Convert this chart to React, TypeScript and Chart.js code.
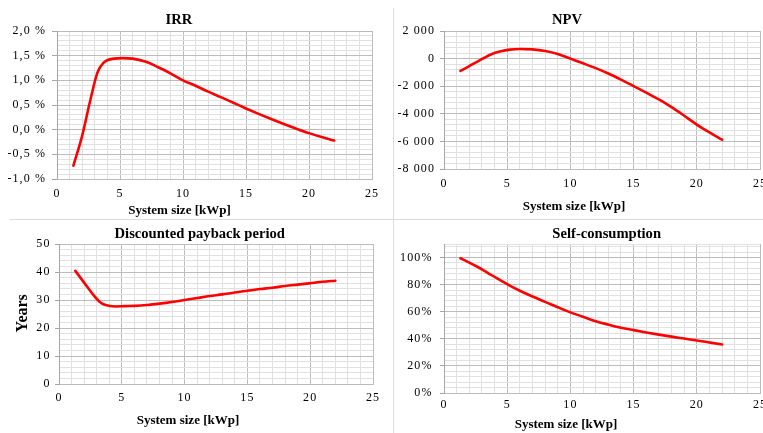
import React, { useEffect, useRef } from 'react';
import { Chart, registerables } from 'chart.js';

Chart.register(...registerables);

// ---------- data ----------
const systemSize = [1.3, 2, 2.6, 3.2, 3.7, 4.5, 5.2, 6, 7, 8, 9, 10, 11, 12, 13, 14, 15, 16, 17, 18, 19, 20, 21, 22];
const irrPct = [-0.73, -0.12, 0.55, 1.15, 1.36, 1.44, 1.45, 1.44, 1.38, 1.27, 1.14, 1.0, 0.89, 0.77, 0.66, 0.545, 0.43, 0.32, 0.215, 0.115, 0.02, -0.07, -0.15, -0.22];
const npvValues = [-890, -540, -230, 60, 300, 530, 650, 700, 670, 555, 340, 0, -340, -690, -1080, -1520, -1990, -2470, -2960, -3520, -4140, -4780, -5350, -5880];
const paybackYears = [40.4, 36.2, 32.6, 29.5, 28.2, 27.7, 27.8, 27.9, 28.2, 28.7, 29.3, 30.0, 30.7, 31.4, 32.0, 32.7, 33.3, 33.9, 34.4, 35.0, 35.5, 36.0, 36.5, 36.9];
const selfConsumptionPct = [99.5, 96.3, 93.4, 90.2, 87.3, 83, 79.3, 75.5, 71.2, 67.3, 63.3, 59.5, 56.3, 53, 50.5, 48.2, 46.4, 44.7, 43.1, 41.6, 40.2, 38.8, 37.3, 35.8];

// ---------- ticks ----------
const range = (min: number, max: number, step: number) => {
  const out: number[] = [];
  const n = Math.floor((max - min) / step + 1e-9);
  for (let i = 0; i <= n; i++) out.push(Math.round((min + i * step) * 1000) / 1000);
  if (out[out.length - 1] < max) out.push(max);
  return out;
};
const xTicks = range(0, 25, 1);
const xMajorStep = 5;
const irrTicks = range(-1, 2, 0.1);
const irrMajorStep = 0.5;
const npvTicks = range(-8000, 2000, 400);
const npvMajorStep = 2000;
const paybackTicks = range(0, 50, 2);
const paybackMajorStep = 10;
const selfTicks = range(0, 110, 4);
const selfMajorStep = 20;

const titles = {
  irr: 'IRR',
  npv: 'NPV',
  payback: 'Discounted payback period',
  self: 'Self-consumption',
  xAxis: 'System size [kWp]',
  years: 'Years',
};

// ---------- styling ----------
const W = 800;
const H = 433;
const X_H = 20;
const FONT = "'Liberation Serif', 'Times New Roman', serif";
const TICK_SIZE = 12;
const MAJOR = '#bcbcbc';
const MINOR = '#e1e1e1';

const isMajor = (v: number, step: number) => Math.abs(v / step - Math.round(v / step)) < 1e-6;

const fmtIrr = (v: number) => v.toFixed(1).replace('.', ',').replace('-0,0', '0,0') + ' %';
const fmtNpv = (v: number) => {
  const s = Math.abs(Math.round(v)).toString().replace(/\B(?=(\d{3})+(?!\d))/g, ' ');
  return (v < 0 ? '-' : '') + s;
};

type TextItem = { text: string; x: number; y: number; font: string; rotate?: boolean };

type PanelCfg = {
  values: number[];
  boxLeft: number;
  area: { left: number; top: number; right: number; bottom: number };
  yTicks: number[];
  yMajor: number;
  yLabel: (v: number) => string;
  yTickLen: number;
  yPad: number;
  xPad: number;
  texts: TextItem[];
};

const textPlugin = (items: TextItem[]) => ({
  id: 'panelText',
  beforeDraw(chart: any) {
    chart.ctx.letterSpacing = '1.1px';
  },
  afterDraw(chart: any) {
    const ctx = chart.ctx;
    ctx.save();
    ctx.letterSpacing = '0px';
    ctx.fillStyle = '#000';
    ctx.textAlign = 'center';
    ctx.textBaseline = 'alphabetic';
    for (const it of items) {
      ctx.save();
      ctx.font = it.font;
      ctx.translate(it.x, it.y);
      if (it.rotate) ctx.rotate(-Math.PI / 2);
      ctx.fillText(it.text, 0, 0);
      ctx.restore();
    }
    ctx.restore();
  },
});

const makeConfig = (p: PanelCfg): any => {
  const yW = p.area.left - p.boxLeft;
  return {
    type: 'line',
    data: {
      datasets: [
        {
          data: systemSize.map((x, i) => ({ x, y: p.values[i] })),
          borderColor: '#ff0000',
          borderWidth: 2.6,
          pointRadius: 0,
          cubicInterpolationMode: 'monotone',
          borderCapStyle: 'round',
          borderJoinStyle: 'round',
          fill: false,
          clip: false,
        },
      ],
    },
    options: {
      responsive: false,
      animation: false,
      events: [],
      layout: {
        padding: {
          left: p.boxLeft,
          top: p.area.top,
          right: W - p.area.right,
          bottom: H - p.area.bottom - X_H,
        },
      },
      plugins: { legend: { display: false }, tooltip: { enabled: false }, title: { display: false } },
      scales: {
        x: {
          type: 'linear',
          min: xTicks[0],
          max: xTicks[xTicks.length - 1],
          afterBuildTicks: (s: any) => {
            s.ticks = xTicks.map((v) => ({ value: v }));
          },
          afterFit: (s: any) => {
            s.height = X_H;
          },
          ticks: {
            autoSkip: false,
            maxRotation: 0,
            padding: p.xPad,
            color: '#000',
            font: { family: FONT, size: TICK_SIZE },
            callback: (v: number) => (isMajor(v, xMajorStep) ? String(v) : ''),
          },
          grid: {
            drawTicks: false,
            lineWidth: 1,
            color: (c: any) => (isMajor(c.tick.value, xMajorStep) ? MAJOR : MINOR),
          },
          border: { display: true, color: MAJOR, width: 1 },
        },
        y: {
          type: 'linear',
          min: p.yTicks[0],
          max: p.yTicks[p.yTicks.length - 1],
          afterBuildTicks: (s: any) => {
            s.ticks = p.yTicks.map((v) => ({ value: v }));
          },
          afterFit: (s: any) => {
            s.width = yW;
          },
          ticks: {
            autoSkip: false,
            padding: p.yPad,
            color: '#000',
            font: { family: FONT, size: TICK_SIZE },
            callback: (v: number) => p.yLabel(v),
          },
          grid: {
            drawTicks: true,
            tickLength: p.yTickLen,
            lineWidth: 1,
            color: (c: any) => (isMajor(c.tick.value, p.yMajor) ? MAJOR : MINOR),
            tickColor: (c: any) =>
              isMajor(c.tick.value, p.yMajor) && p.yLabel(c.tick.value) !== '' ? '#a6a6a6' : 'rgba(0,0,0,0)',
          },
          border: { display: true, color: '#a6a6a6', width: 1 },
        },
      },
    },
    plugins: [textPlugin(p.texts)],
  };
};

const TITLE_FONT = `bold 14.6px ${FONT}`;
const AXIS_FONT = `bold 13px ${FONT}`;

const panels: PanelCfg[] = [
  {
    values: irrPct,
    boxLeft: 0,
    area: { left: 57, top: 31, right: 372, bottom: 179 },
    yTicks: irrTicks,
    yMajor: irrMajorStep,
    yLabel: (v) => (isMajor(v, irrMajorStep) ? fmtIrr(v) : ''),
    yTickLen: 5,
    yPad: 6,
    xPad: 7.5,
    texts: [
      { text: titles.irr, x: 179, y: 24, font: TITLE_FONT },
      { text: titles.xAxis, x: 179.5, y: 214, font: AXIS_FONT },
    ],
  },
  {
    values: npvValues,
    boxLeft: 395,
    area: { left: 444, top: 31, right: 760, bottom: 169 },
    yTicks: npvTicks,
    yMajor: npvMajorStep,
    yLabel: (v) => (isMajor(v, npvMajorStep) ? fmtNpv(v) : ''),
    yTickLen: 4,
    yPad: 5,
    xPad: 8,
    texts: [
      { text: titles.npv, x: 567, y: 23.5, font: TITLE_FONT },
      { text: titles.xAxis, x: 574, y: 209.5, font: AXIS_FONT },
    ],
  },
  {
    values: paybackYears,
    boxLeft: 30,
    area: { left: 59, top: 244, right: 373, bottom: 384 },
    yTicks: paybackTicks,
    yMajor: paybackMajorStep,
    yLabel: (v) => (isMajor(v, paybackMajorStep) ? String(v) : ''),
    yTickLen: 4,
    yPad: 4.5,
    xPad: 7,
    texts: [
      { text: titles.payback, x: 199.7, y: 238, font: TITLE_FONT },
      { text: titles.xAxis, x: 188, y: 423.5, font: AXIS_FONT },
      { text: titles.years, x: 27.3, y: 313.3, font: `bold 16px ${FONT}`, rotate: true },
    ],
  },
  {
    values: selfConsumptionPct,
    boxLeft: 395,
    area: { left: 444, top: 244, right: 760, bottom: 393 },
    yTicks: selfTicks,
    yMajor: selfMajorStep,
    yLabel: (v) => (isMajor(v, selfMajorStep) && v <= 100 ? `${v}%` : ''),
    yTickLen: 4,
    yPad: 7.5,
    xPad: 5,
    texts: [
      { text: titles.self, x: 606.7, y: 237.7, font: TITLE_FONT },
      { text: titles.xAxis, x: 566, y: 427.5, font: AXIS_FONT },
    ],
  },
];

const canvasStyle: React.CSSProperties = { position: 'absolute', left: 0, top: 0, width: W, height: H };

export default function App() {
  const refs = [useRef<HTMLCanvasElement>(null), useRef<HTMLCanvasElement>(null), useRef<HTMLCanvasElement>(null), useRef<HTMLCanvasElement>(null)];

  useEffect(() => {
    const charts = panels.map((p, i) => new Chart(refs[i].current as HTMLCanvasElement, makeConfig(p)));
    return () => charts.forEach((c) => c.destroy());
  }, []);

  return (
    <div style={{ position: 'fixed', left: 0, top: 0, width: 763, height: 433, overflow: 'hidden', background: '#fff' }}>
      <div style={{ position: 'absolute', left: 393, top: 8, width: 1, height: 425, background: '#dcdcdc' }} />
      <div style={{ position: 'absolute', left: 10, top: 219, width: 753, height: 1, background: '#dcdcdc' }} />
      {refs.map((r, i) => (
        <canvas key={i} ref={r} width={W} height={H} style={canvasStyle} />
      ))}
    </div>
  );
}
